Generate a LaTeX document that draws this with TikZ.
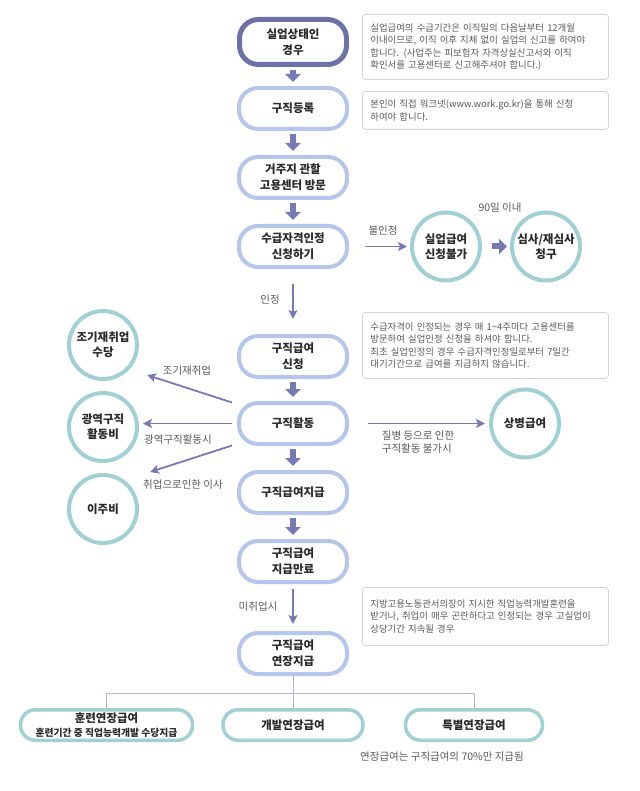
\documentclass[tikz,border=0pt]{standalone}
\usepackage{fontspec}
\setmainfont{Noto Sans CJK KR}
\usepackage{tikz}
\usetikzlibrary{arrows.meta,positioning}
\definecolor{slate}{HTML}{6D71A8}
\definecolor{periwinkle}{HTML}{B6C5EC}
\definecolor{mint}{HTML}{A0D0D4}
\definecolor{arrowc}{HTML}{7579B4}
\definecolor{notegray}{HTML}{D4D4D4}
\definecolor{textgray}{HTML}{5A5A5A}
\definecolor{darktext}{HTML}{2A2A2A}
\definecolor{treeline}{HTML}{AEB6D6}
\tikzset{
  pill/.style={draw=periwinkle, fill=white, line width=4pt, rounded corners=19pt,
               minimum width=108pt, minimum height=41pt, align=center,
               font=\fontsize{11.5}{16}\selectfont\bfseries, text=darktext, inner sep=2pt},
  startpill/.style={pill, draw=slate, line width=5pt, minimum height=45pt, minimum width=107pt},
  bubble/.style={circle, draw=mint, fill=white, line width=4pt, minimum size=68pt,
                 align=center, font=\fontsize{11.5}{15}\selectfont\bfseries, text=darktext, inner sep=0pt},
  extbox/.style={pill, draw=mint, line width=3.5pt, minimum height=30.5pt, rounded corners=15pt},
  note/.style={draw=notegray, fill=white, line width=.8pt, rounded corners=3pt, anchor=north west,
               text width=230pt, inner xsep=8pt, align=left,
               font=\fontsize{9.4}{12.5}\selectfont, text=textgray},
  fatarr/.style={-{Triangle[width=15pt,length=8pt]}, line width=6pt, draw=arrowc},
  thinarr/.style={-{Stealth[length=9pt,width=9pt,inset=2pt]}, line width=1.8pt, draw=arrowc},
  tree/.style={draw=treeline, line width=1pt},
  lbl/.style={font=\fontsize{10.5}{13.5}\selectfont, text=textgray, align=left}
}
\begin{document}
\begin{tikzpicture}[x=1pt, y=-1pt, node distance=24pt]
  \useasboundingbox (0,0) rectangle (639,791);

  % main column
  \node[startpill] (jobless) at (293,42) {실업상태인\\경우};
  \node[pill, below=19pt of jobless] (reg) {구직등록};
  \node[pill, below=of reg] (visit) {거주지 관할\\고용센터 방문};
  \node[pill, below=of visit] (apply) {수급자격인정\\신청하기};
  \node[pill, below=65pt of apply] (claim) {구직급여\\신청};
  \node[pill, below=22pt of claim] (search) {구직활동};
  \node[pill, below=of search] (pay) {구직급여지급};
  \node[pill, below=of pay] (done) {구직급여\\지급만료};
  \node[pill, below=47pt of done] (ext) {구직급여\\연장지급};

  % side circles
  \node[bubble, right=61pt of apply] (nogo) {실업급여\\신청불가};
  \node[bubble, right=28pt of nogo] (review) {심사/재심사\\청구};
  \node[bubble, left=98pt of search, yshift=-3.5pt] (wide) {광역구직\\활동비};
  \node[bubble, above=10pt of wide] (early) {조기재취업\\수당};
  \node[bubble, below=10pt of wide] (move) {이주비};
  \node[bubble, right=140pt of search] (sick) {상병급여};

  % extension types
  \node[extbox, below=32pt of ext, minimum width=140pt] (dev) {개발연장급여};
  \node[extbox, left=27pt of dev, minimum width=172pt] (train)
       {훈련연장급여\\[-2pt]{\fontsize{9.8}{11}\selectfont 훈련기간 중 직업능력개발 수당지급}};
  \node[extbox, right=39pt of dev, minimum width=137pt] (special) {특별연장급여};

  % notes
  \node[note, minimum height=65pt] (note1) at (362,14)
       {실업급여의 수급기간은 이직일의 다음날부터 12개월\\
        이내이므로, 이직 이후 지체 없이 실업의 신고를 하여야\\
        합니다. (사업주는 피보험자 자격상실신고서와 이직\\
        확인서를 고용센터로 신고해주셔야 합니다.)};
  \node[note, minimum height=38pt] (note2) at (362,91)
       {본인이 직접 워크넷(www.work.go.kr)을 통해 신청\\하여야 합니다.};
  \node[note, minimum height=66pt] (note3) at (362,312)
       {수급자격이 인정되는 경우 매 1\textasciitilde4주마다 고용센터를\\
        방문하여 실업인정 신청을 하셔야 합니다.\\
        최초 실업인정의 경우 수급자격인정일로부터 7일간\\
        대기기간으로 급여를 지급하지 않습니다.};
  \node[note, minimum height=58pt] (note4) at (362,587)
       {지방고용노동관서의장이 지시한 직업능력개발훈련을\\
        받거나, 취업이 매우 곤란하다고 인정되는 경우 고실업이\\
        상당기간 지속될 경우};

  % labels
  \node[lbl] (lblno) at (383,231) {불인정};
  \node[lbl] (lbl90) at (500,208) {90일 이내};
  \node[lbl] (lblok) at (270,300) {인정};
  \node[lbl] (lblearly) at (187,371) {조기재취업};
  \node[lbl] (lblwide) at (178,440) {광역구직활동시};
  \node[lbl] (lblmove) at (183,485) {취업으로인한 이사};
  \node[lbl] (lblsick) at (418,442) {질병 등으로 인한\\구직활동 불가시};
  \node[lbl] (lblnojob) at (258,607) {미취업시};
  \node[lbl] (lblpct) at (442,757) {연장급여는 구직급여의 70\%만 지급됨};

  % arrows
  \draw[fatarr, shorten <=3pt, shorten >=4pt] (jobless) -- (reg);
  \draw[fatarr, shorten <=3pt, shorten >=4pt] (reg) -- (visit);
  \draw[fatarr, shorten <=3pt, shorten >=4pt] (visit) -- (apply);
  \draw[thinarr, shorten <=15pt, shorten >=15pt] (apply) -- (claim);
  \draw[thinarr, shorten <=16pt, shorten >=3pt] (apply) -- (nogo);
  \draw[fatarr, shorten <=10pt, shorten >=3pt] (nogo) -- (review);
  \draw[fatarr, shorten <=3pt, shorten >=4pt] (claim) -- (search);
  \draw[fatarr, shorten <=3pt, shorten >=4pt] (search) -- (pay);
  \draw[fatarr, shorten <=3pt, shorten >=4pt] (pay) -- (done);
  \draw[thinarr, shorten <=5pt, shorten >=7pt] (done) -- (ext);
  \draw[thinarr, shorten <=19pt, shorten >=4pt] (search) -- (sick);
  \draw[thinarr, shorten <=5pt, shorten >=4pt] (search.west) -- (search.west -| wide.east);
  \draw[thinarr] ([shift={(-5,-21)}]search.west) -- ([shift={(44,30)}]early.center);
  \draw[thinarr] ([shift={(-5,22)}]search.west) -- ([shift={(47,-37)}]move.center);

  % extension tree
  \coordinate (fork) at ([yshift=-17pt]ext.south);
  \draw[tree] (ext.south) -- (fork);
  \draw[tree] (fork) -| (train.north);
  \draw[tree] (fork) -| (special.north);
  \draw[tree] (fork) -- (dev.north);
\end{tikzpicture}
\end{document}
